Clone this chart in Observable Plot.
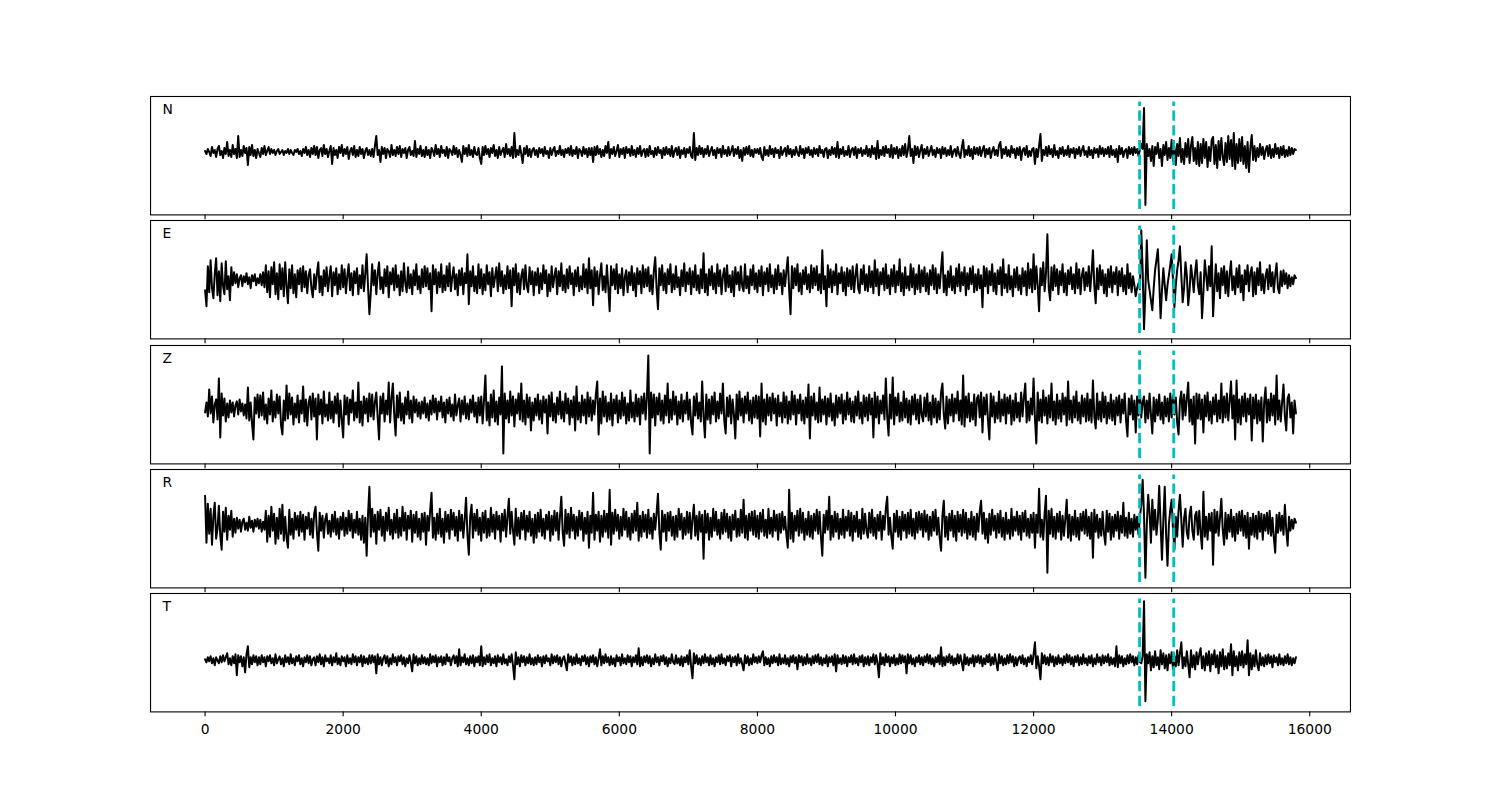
<!DOCTYPE html>
<html><head><meta charset="utf-8">
<script src="https://cdn.jsdelivr.net/npm/d3@7"></script>
<script src="https://cdn.jsdelivr.net/npm/@observablehq/plot@0.6"></script>
<style>
body{margin:0;background:#fff;}
#fig{position:relative;width:1500px;height:800px;background:#fff;overflow:hidden;}
#fig svg{position:absolute;left:0;}
</style></head><body><div id="fig"></div>
<script>
// time axis of the traces (one sample every dt)
const t0 = 0, dt = 20;
const channels = ["N", "E", "Z", "R", "T"];
const picks = [13535, 14030];
const xTicks = [0, 2000, 4000, 6000, 8000, 10000, 12000, 14000, 16000];
const xDomain = [-790, 16590];

const traceN = [
1,-2,3,0,-4,5,-1,2,-5,3, 6,-3,1,-6,4,-2,10,-4,2,-5, 7,-2,3,-6,16,-5,2,-4,6,-1, 4,-13,5,-3,7,-4,2,-6,3,-1,
-5,4,-2,6,-3,1,5,-2,3,-1, 2,-3,1,3,-2,0,2,-3,1,-1, 3,-2,2,-1,-3,2,0,3,-2,1, -4,3,-1,5,-3,2,-5,4,-2,6,
-3,5,-6,2,4,-4,7,-2,3,-5, 1,6,-12,4,-3,2,-6,5,-1,7, -4,3,-2,5,-7,1,4,-3,6,-5, 2,-4,5,-2,3,-6,1,4,-3,2,
-4,3,-5,6,16,-3,2,-10,5,-2, 4,-6,3,1,-5,7,-3,2,-4,5, -2,6,-5,3,-1,4,-6,2,5,-3, 1,-4,11,-5,3,-2,6,-4,2,-5,
5,-3,2,-6,4,1,-4,7,-2,3, -5,6,-1,2,-4,5,-6,3,1,-3, 6,-2,4,-5,2,-3,-10,6,-2,4, -4,7,-3,2,-5,5,-2,-3,4,-6,
-12,5,-3,6,-2,3,-5,4,-1,7, -4,2,-6,5,-3,1,4,-5,8,-2, 3,-4,5,-6,19,-5,2,-3,6,-2, -11,4,-2,6,-4,3,-5,2,4,-3,
2,-5,4,-1,3,-4,5,-2,1,-6, 4,-3,2,5,-4,1,-2,6,-3,2, -5,3,-1,4,-3,6,-4,2,-2,5, -6,3,1,-4,5,-2,3,-5,4,-3,
4,-10,5,-3,6,-2,3,-5,2,-4, 6,-1,10,-6,3,-2,5,-4,1,7, -5,3,-2,4,-6,5,-1,3,-4,6, -3,2,-5,4,-2,6,-4,1,3,-5,
3,-4,6,-2,1,-5,4,-3,5,-1, 2,-6,4,-3,5,-2,3,-4,6,-5, 1,4,-3,5,-6,2,-2,4,-5,3, -1,5,-4,-6,19,-8,4,-3,6,-2,
4,-5,3,-2,6,-4,1,5,-3,2, -6,4,-1,3,-5,6,-2,2,-4,5, -3,1,6,-4,3,-2,5,-6,2,-9, 4,-3,5,-2,6,-4,2,-5,3,-1,
3,-2,4,-5,-8,5,-3,2,-4,6, -2,3,-5,4,-1,2,-6,5,-3,1, 4,-4,6,-2,3,-5,2,-3,5,-1, -4,6,-2,3,-6,4,-1,5,-3,2,
-5,4,-2,3,-4,6,-1,2,-5,3, 4,-6,2,-3,5,-2,4,-5,10,-6, 3,-2,5,-4,1,-3,6,-5,2,4, -3,5,-6,3,-1,4,-4,2,-2,6,
-4,3,-5,6,-2,4,-7,11,-6,2, -3,5,-4,6,-1,3,-5,7,-6,4, -2,5,-6,3,-4,6,-3,8,-5,2, 16,-4,3,-11,6,-3,5,-5,2,7,
-6,3,-2,5,-4,1,6,-3,2,-5, 4,-1,3,-6,5,-2,4,-4,2,-3, 6,-5,1,3,-4,5,-2,-6,4,12, -5,2,-3,6,-4,3,-7,5,-2,4,
-3,5,-4,2,6,-5,3,-2,4,-6, 1,5,-3,2,-4,7,10,-6,3,-2, 5,-4,2,-5,6,-1,3,-6,4,-3, 5,-8,2,4,-3,6,-5,1,-4,3,
4,-12,3,-5,6,18,-9,2,-3,5, -4,6,-2,3,-5,7,-3,1,-6,4, -2,5,-4,2,-3,6,-5,3,-1,4, -6,3,-2,5,-4,2,6,-3,1,-5,
5,-3,2,-6,4,-1,3,-5,6,-2, 4,-4,3,-2,5,-5,6,-3,2,-5, 3,-10,6,-2,4,-5,1,3,-6,5, -2,4,-3,5,-1,3,-4,2,8,3,
44,-53,8,-4,3,-9,6,-14,5,-2, 9,-6,3,-14,7,-3,10,-8,4,-6, 12,-9,5,-13,8,-4,14,-10,3,-12, 9,-5,13,-11,6,15,-9,4,-12,10,
-14,8,-11,13,-6,10,-15,5,-9,12, 15,-12,7,-16,11,-8,14,-5,-13,9, -10,16,-7,12,-14,19,-17,8,-11,13, -9,15,-12,6,-16,10,-20,4,17,-8,
6,-9,4,-5,8,-3,5,-7,2,6, -4,7,-6,3,-5,8,-2,4,-6,5, -3,6,-5,2,-4,5,-3,4,-2,3, 2];

const traceE = [
-10,-26,14,-12,20,-8,-18,6,22,-15, 9,-21,17,-6,-14,19,-9,4,-20,13, -5,8,-3,6,-7,2,5,-6,4,-2, 7,-4,3,-8,5,-1,6,-5,2,-3,
6,-5,8,-7,15,-12,9,-17,13,-4, 18,-14,7,-19,16,-9,12,-16,18,-6, -23,11,-8,15,-13,6,-17,10,-4,12, -11,14,-7,9,-13,5,11,-8,-17,6,
-9,7,18,-12,4,-15,10,-6,13,-11, 3,14,-16,8,-5,12,-14,6,-9,15, -7,11,-13,4,16,-10,7,-15,9,-3, 12,-14,5,-8,15,-11,6,26,-6,-34,
-12,16,-5,10,-14,7,18,-9,3,-13, 11,-6,14,-17,8,-4,12,-10,15,-7, 5,-15,9,-11,17,-3,-12,13,-8,6, -14,10,-5,16,-9,4,-13,11,-7,14,
-6,12,-9,7,-31,15,-4,11,-13,8, -7,16,-12,5,-10,14,-6,17,-11,3, 13,-9,6,-15,10,-5,12,-14,7,-3, 26,-24,9,-6,14,-11,4,-13,16,-8,
11,-14,6,-10,15,-4,8,-16,12,-7, 3,13,-11,17,-6,9,-13,5,-9,14, -8,10,-26,12,-5,16,-12,7,-14,4, 11,-9,15,-6,-12,13,-4,9,-15,8,
-5,12,-13,7,-9,15,-3,10,-16,6, -11,14,-7,4,12,-14,9,-6,17,-10, 5,-12,11,-8,14,-4,7,-15,10,-6, 13,-11,4,-9,16,-7,11,-13,22,-8,
10,-25,13,-6,9,-14,5,17,-10,4, -12,15,-7,-31,14,-5,11,-9,16,-13, 6,-8,12,-15,3,10,-12,8,-5,14, -10,7,-16,12,-4,9,-13,15,-7,11,
-6,13,-11,5,-14,9,23,-8,-29,12, -5,15,-10,7,-13,11,-4,16,-12,6, -9,14,-7,3,-15,10,-6,17,-11,8, -4,12,-14,9,-7,15,-10,5,-13,11,
-8,27,-12,6,-15,11,-5,14,-9,7, -13,16,-6,10,-14,4,12,-11,15,-7, 5,-12,9,-16,13,-4,8,-10,14,-6, -11,16,-8,4,-13,11,-5,15,-9,7,
-12,10,-6,14,-15,8,-4,12,-11,16, -7,5,-13,11,-9,15,-5,7,-14,10, -6,9,23,-10,-34,14,-8,12,-5,16, -11,7,-14,10,-4,13,-9,6,-12,15,
-8,12,-5,14,-10,6,-13,30,-9,4, -26,15,-7,11,-12,9,-5,16,-14,7, -3,13,-11,8,-15,12,-6,10,-9,14, -12,5,16,-8,-13,11,-4,15,-10,6,
-11,14,-7,9,-13,20,-6,11,-15,8, -4,12,-10,16,-8,5,-14,11,-6,15, -12,9,-5,21,-11,7,-15,13,-8,4, -10,16,-7,12,-14,6,-9,15,-12,10,
-6,13,-11,7,-14,10,-5,15,-9,12, -13,6,-8,11,28,-12,5,-15,9,-7, 14,-10,4,-13,12,-6,16,-11,8,-5, 13,-15,7,-9,12,-4,14,-12,6,-10,
11,-8,5,-27,14,-6,12,-13,9,-5, 16,-11,7,-14,10,-4,13,-15,21,-8, 6,-12,15,-9,4,-16,11,-7,13,-10, 5,-14,12,-6,9,-15,17,-8,11,-12,
26,-9,14,-6,-31,12,-5,18,-11,7, 46,-8,-20,13,-10,15,-6,11,-14,9, -5,16,-12,7,-15,10,-4,13,-9,6, -13,17,-8,11,-14,5,12,-10,8,-6,
14,-11,7,30,-6,-23,12,-9,15,-5, 10,-13,6,-16,11,-7,14,-12,8,-4, 13,-15,9,-6,12,-11,5,-14,16,-8, 7,-12,4,-5,-16,-8,-3,-9,50,10,
-49,-10,40,0,-10,-20,-30,-8,10,20, 31,0,-38,-10,12,-5,-20,-5,5,15, 26,0,-27,-5,10,20,34,5,-22,-8, 18,5,-25,-10,15,3,-12,8,20,-5,
-14,8,-38,-12,20,5,-10,14,-6,34, -36,-8,16,-11,7,-18,12,-5,14,-13, 9,-16,6,19,-10,4,-14,12,-7,15, -12,5,-20,10,-4,15,-11,7,13,-16,
8,-14,12,-5,18,-10,6,-13,4,11, -9,15,-6,8,-12,5,17,-8,-13,9, -6,10,-4,7,-8,5,-6,3,-4,5, 2];

const traceZ = [
-4,6,-8,19,-5,12,-14,4,9,-11, 30,-29,15,-7,10,-13,5,-9,8,-4, 6,-8,3,7,-6,9,-3,5,-7,4, -10,21,-12,6,-15,-31,11,-5,14,-9,
13,-7,16,-11,4,-15,10,-6,18,-13, 7,-9,14,-5,12,-17,-26,8,-12,23, -10,15,-6,11,-16,5,-9,13,-14,8, -5,22,-13,9,-17,6,12,-11,15,-8,
10,-31,14,-6,9,-15,17,-8,4,-12, 16,-10,7,-14,12,-5,15,-18,8,-11, -29,13,-6,11,-16,9,-4,18,-12,6, -9,26,-14,7,-17,12,-5,10,-13,15,
-8,14,-11,6,16,-9,-31,12,-5,15, -13,8,-6,26,-14,10,25,-7,-27,13, -9,16,-12,5,-15,11,-6,17,-10,8, -14,12,-4,9,-8,6,-10,7,-5,11,
-9,5,-12,8,-6,13,-4,10,-11,7, -3,12,-9,6,-14,9,-5,11,-8,4, -12,14,-7,3,10,-13,8,-6,12,-10, 5,-11,9,-4,13,-8,6,-14,11,-7,
12,-15,8,33,-12,6,-17,14,-9,18, -13,7,-16,11,-6,42,-45,15,-10,8, -14,17,-7,12,-18,9,-5,15,-11,25, -13,8,-16,14,-9,11,-22,6,-12,10,
-7,14,-11,8,-15,12,-4,9,-25,13, -8,16,-12,5,-14,11,-6,17,-10,7, -13,15,-5,10,-16,8,-9,12,-22,22, -11,6,-14,13,-7,9,-15,16,-8,11,
-12,8,-6,14,27,-26,10,-15,17,-8, 12,-13,6,-11,15,-17,9,-5,13,-14, 8,-10,16,-7,11,-15,5,-12,18,-9, 6,-13,14,-8,10,-16,12,-5,15,-11,
12,53,-45,16,-9,14,-17,11,-6,15, -12,8,-15,13,-7,25,-14,9,-11,17, -6,12,-16,7,-10,14,-13,8,-5,16, -11,9,-15,-26,12,-7,15,-10,6,-13,
27,-8,-29,14,-11,9,-15,12,-6,16, -13,7,-10,15,-5,25,-12,-25,11,-8, 13,-15,9,-6,-30,14,-11,17,-7,10, -14,12,-5,16,-12,8,-15,11,-9,13,
-10,12,-28,25,-13,9,-16,14,-7,11, -12,15,-5,10,-17,13,-8,6,-14,16, -9,12,-15,7,-11,17,-6,13,-16,9, -5,14,-12,8,-15,11,-9,24,-30,12,
-7,15,-11,6,-14,21,-13,9,-6,12, -16,10,-8,15,-12,5,-17,13,-9,11, -5,14,-15,8,-11,16,-6,10,-13,7, -14,12,-7,17,-10,6,-15,13,-8,11,
-12,14,-6,10,-29,16,-9,12,-15,8, -5,13,-11,30,-8,-27,14,-10,31,-16, 11,-7,15,-13,6,-12,17,-9,10,-14, 8,-16,12,-6,14,-11,9,-15,13,-7,
-13,11,-8,15,-12,6,-16,13,-9,10, -14,7,-11,16,25,-6,-20,12,-15,9, -7,14,-13,10,-5,17,-12,8,-16,33, -18,12,-9,15,-13,6,-11,14,-17,10,
13,-9,16,-24,11,-6,14,-12,-31,15, -8,12,-14,6,-10,17,-13,9,-7,14, -15,11,-5,13,-16,8,-12,15,-9,6, -13,16,-8,11,25,-14,7,-12,10,-6,
30,-10,-35,16,-12,9,-14,18,-7,11, -15,13,-9,25,-12,7,-16,14,-10,8, -13,15,-6,11,-17,27,-11,8,-14,12, -9,17,-12,6,-15,13,-8,10,-13,15,
-12,9,-14,28,-8,-20,15,-11,7,-13, 16,-9,12,-15,6,-10,14,-12,8,-16, 11,-7,13,-14,9,-5,15,-12,-28,10, -6,13,-11,8,-24,12,-7,18,-9,6,
12,-14,8,-10,15,-6,-25,11,-13,9, -7,14,-11,6,-15,12,-8,10,-13,15, -9,13,-6,11,-14,-26,8,17,-11,14, -7,10,26,-13,9,-16,12,-35,15,-10,
14,-11,9,-24,13,-8,16,-12,7,-15, 11,-6,14,-13,8,-10,25,-14,12,-9, 15,-12,7,27,-10,13,-31,28,-14,9, -16,12,-8,15,-13,10,-6,14,-32,11,
-10,14,-15,8,-12,11,-33,6,21,-14, 9,-12,15,-7,13,-16,33,-11,8,-13, 6,24,-8,-22,10,14,-9,6,-25,8, -5];

const traceR = [
29,-18,21,-9,16,-20,8,22,-14,-4, 19,-11,-25,13,-7,17,-15,9,-5,14, -12,6,-8,7,-4,5,-7,3,6,-5, 2,-6,8,-3,4,-7,5,-2,6,-4,
5,-7,3,-5,14,-17,9,-12,18,-6, 11,-19,7,-14,16,-9,20,-16,8,-13, -23,15,-10,6,-14,12,-5,9,-11,13, -7,10,-15,8,-4,12,-10,6,-13,11,
18,-8,-26,12,-6,9,-13,5,11,-9, 4,-12,10,-7,13,-10,6,-14,8,-5, 12,-11,7,-9,14,-6,11,-13,5,-8, 13,-10,6,-15,9,-18,7,-31,10,38,
-12,16,-7,10,-19,13,-5,15,-11,8, -16,12,-6,17,-10,5,-14,11,-8,15, -13,7,-11,18,-6,12,-15,9,-4,14, -17,10,-8,13,-12,6,-15,11,-7,12,
-20,9,-6,14,32,-13,7,-15,11,-9, 16,-12,6,-18,13,-7,10,-14,15,-5, 12,-11,8,-16,14,-6,10,-13,5,27, -10,-30,8,20,-13,11,-6,15,-10,7,
-16,12,-8,14,-13,6,-11,17,-7,10, -14,13,-5,9,-17,11,-6,15,-12,8, 26,-9,13,-6,-20,16,-11,7,-14,12, -5,14,-15,9,-7,13,-11,6,-18,10,
-13,12,-7,15,-11,6,-14,10,-5,13, -16,9,-10,14,-6,12,-15,8,28,-8, -21,15,-9,11,-13,17,-6,10,-14,8, -11,14,-5,12,-16,7,-9,13,-23,9,
-8,32,-15,10,-6,13,-17,9,-12,14, -7,11,-13,35,-20,12,-9,15,-6,10, -14,8,-11,16,-5,13,-12,7,-15,11, -8,14,-6,22,-16,9,-12,13,-7,10,
-13,15,-9,7,-14,11,-5,12,31,-8, -25,14,-7,10,-16,12,-6,13,-11,8, -15,9,-12,16,-5,11,-14,7,-10,13, -8,12,-14,6,20,-11,9,-15,13,-7,
10,-34,14,-8,11,-15,7,-12,16,-6, 13,-10,5,-14,12,-9,15,-7,11,-13, 8,-16,10,-5,14,-12,6,-11,15,-8, 25,-13,9,-15,11,-6,13,-10,14,-12,
9,-14,12,-7,15,-11,5,-13,16,-9, 7,-12,14,-6,10,-15,11,-8,13,-5, 8,-10,-23,35,-14,12,-17,9,-6,14, -11,16,-8,12,-15,6,-10,13,-12,9,
-14,11,-6,15,-9,13,-12,-31,10,-8, 14,-5,28,-15,9,-12,13,-7,11,-14, 6,-10,15,-13,8,-6,14,-11,12,-16, 9,-7,13,-12,5,-14,16,-9,11,-6,
-13,12,-8,15,-11,7,-14,10,-6,13, -15,9,-5,16,28,-10,7,-12,-24,11, -7,14,-12,8,-15,13,-6,10,-13,12, -9,15,-11,6,-14,12,-8,13,-5,11,
-12,14,-7,10,-15,8,-11,13,-6,15, -10,7,-13,-26,9,24,-12,8,-15,11, -6,14,-12,9,-16,13,-7,10,-11,15, -8,12,-14,6,-10,13,-12,8,-15,11,
-7,13,24,-9,12,-14,6,-18,11,-10, 15,-6,9,-13,11,-8,14,-12,7,-15, 12,-9,5,-14,16,-11,8,-6,13,-10, 9,-15,12,-7,14,-11,6,-13,10,-8,
12,-23,10,-8,36,-12,5,-15,11,29, -48,14,-9,16,-12,8,-14,11,-7,13, -15,9,-11,6,25,-13,10,-16,8,-10, 14,-12,7,-15,11,-6,13,-9,15,-11,
8,-14,12,-33,15,-7,10,-13,6,-11, 13,-9,-20,14,-7,11,-15,8,-12,10, -6,13,-14,9,-8,22,-11,7,-13,12, -9,6,-12,10,-5,8,-10,7,20,45,
10,-53,0,30,12,-18,25,-5,15,-10, 5,39,0,-35,5,38,-10,-41,0,15, 25,-5,-25,8,-12,14,30,5,-22,6, 16,-8,-14,10,18,-6,-15,9,13,-10,
14,-9,-24,33,-12,8,-15,11,-6,12, -40,15,-8,13,-11,7,26,-5,-20,12, -14,10,-7,15,-12,8,-16,11,-9,13, -6,14,-11,9,-13,12,-24,7,-10,11,
-12,9,-14,13,-7,11,-15,10,-6,12, -9,14,-11,7,-13,-28,10,-8,12,-6, 9,-10,20,-5,-21,8,-6,5,-4,6, 2];

const traceT = [
1,-2,3,-1,4,-3,2,-5,3,0, -3,4,-2,5,-1,3,7,-4,2,-5, 4,-3,6,-15,5,-2,4,-6,3,-12, 6,14,-7,3,-4,5,-2,4,-5,3,
-4,5,-2,3,-6,4,-1,5,-3,2, -5,6,-3,1,4,-4,2,-6,5,-2, 3,-4,6,-3,2,-5,4,-1,5,-4, 2,-6,3,-2,5,-3,4,-5,1,3,
-5,4,-2,6,-4,3,-6,5,-1,2, -3,5,-5,3,-2,7,-4,2,-5,4, -1,3,-6,5,-3,2,-4,6,-2,4, -5,3,-2,5,-6,4,-3,2,-4,5,
-3,5,-2,4,-13,6,-4,3,-5,2, 5,-3,4,-6,2,-4,6,-2,3,-5, 4,-1,5,-4,3,-6,2,-3,5,-2, -11,6,-3,4,-5,2,-4,5,-3,3,
-4,2,-5,6,-3,4,-2,5,-6,3, -2,4,-5,3,-4,6,-1,3,-5,2, 5,-3,4,-6,11,-5,3,-2,6,-4, 2,-5,4,-3,5,-6,3,-2,4,-5,
14,-6,3,-4,5,-2,6,-5,2,-3, 4,-6,5,-2,3,-4,6,-3,1,-5, 4,-2,6,-5,-19,8,-4,3,-6,5, -2,4,-5,3,-3,6,-4,2,-5,3,
-4,5,-2,3,-6,4,-3,5,-1,2, -5,6,-3,4,-2,5,-4,3,-6,2, 4,-3,-10,6,-2,4,-5,3,-4,6, -3,2,-5,4,-1,5,-4,3,-6,4,
-2,5,-4,3,-6,2,11,-5,4,-3, 6,-2,3,-5,4,-4,2,-6,5,-1, 3,-5,6,-3,2,-4,5,-2,4,-6, 3,-2,5,-4,12,-6,3,-5,4,-2,
5,-3,4,-6,2,-4,6,-2,3,-5, 4,-1,5,-4,3,-6,2,-3,6,-2, -4,5,-3,2,-5,4,-6,3,-2,5, -4,10,-6,-18,7,-3,5,-4,2,-5,
4,-3,6,-2,3,-5,5,-4,2,-6, 3,-2,5,-4,6,-3,2,-5,4,-1, 5,-6,3,-2,4,-5,6,-3,2,-4, -10,5,-3,4,-5,2,-4,6,-2,3,
-3,4,-2,5,9,-5,3,-4,2,-6, 4,-3,5,-2,3,-5,6,-4,2,-3, 5,-4,2,-6,4,-2,5,-3,3,-9, 5,-2,4,-5,3,-4,6,-3,2,-5,
4,-3,5,-2,6,-4,3,-5,2,-3, 5,-6,3,-2,4,-5,6,-11,5,-3, 2,-4,5,-3,4,-6,3,-2,5,-4, 6,-3,2,-5,4,-2,5,-6,3,-4,
4,-5,3,-2,6,-4,5,-3,-17,7, -4,3,-5,6,-2,4,-6,3,-3,5, -5,2,-4,6,-3,5,-2,4,-13,6, -3,5,-4,2,-6,3,-2,5,-4,3,
-5,4,-2,6,-3,5,-4,2,-6,3, -2,5,-4,13,-6,3,-5,4,-2,6, -3,4,-5,2,-4,6,-3,5,-2,-10, 6,-4,3,-5,2,-3,5,-6,4,-2,
5,-3,4,-6,2,-4,5,-2,6,-5, 3,-4,6,-2,-10,6,-3,4,-5,2, -4,5,-3,6,-2,4,-6,3,-5,2, 4,-3,5,-4,2,-6,3,-2,5,-4,
6,18,-8,4,-6,-19,7,-3,5,-4, 3,-5,6,-2,4,-6,3,-4,5,-3, 2,-5,4,-3,6,-2,5,-4,3,-6, 4,-2,5,-5,3,-4,6,-3,2,-5,
4,-3,5,-6,2,-4,6,-2,3,-5, 5,-3,4,-2,6,-5,3,-4,2,-6, 14,-7,5,-3,4,-6,2,-4,5,-3, 6,-2,4,-5,3,-4,5,-2,-3,4,
59,-41,6,-3,8,-10,4,-7,9,-5, 3,-9,10,-4,7,-8,5,-10,6,-3, 8,-9,4,-6,10,-5,7,18,-8,3, -6,9,-4,-17,10,-7,5,-9,8,-4,
6,12,-8,4,-10,7,-5,9,-11,6, -4,10,-7,5,-13,8,-6,11,-9,4, -8,7,-5,16,-15,9,-6,4,-10,8, -5,9,-7,6,-4,20,-15,7,-9,5,
-6,10,-4,-10,7,-5,3,-6,5,-4, 6,-3,4,-7,5,-2,3,-5,6,-4, 2,-5,4,-3,6,-4,3,-5,2,-3, 3];

// amplitude limits of each panel (the pick lines span them)
const yLimN = [-57.5, 50.1];
const yLimE = [-53.3, 54.3];
const yLimZ = [-50.1, 57.5];
const yLimR = [-57.8, 49.8];
const yLimT = [-46.2, 61.4];

const traces = {N: traceN, E: traceE, Z: traceZ, R: traceR, T: traceT};
const yLims = {N: yLimN, E: yLimE, Z: yLimZ, R: yLimR, T: yLimT};

const fig = document.getElementById("fig");
const frameTops = [96, 220.3, 344.6, 468.9, 593.2];
const frameH = 118.4;
const FONT = "'DejaVu Sans', sans-serif";

channels.forEach((ch, k) => {
  const last = k === channels.length - 1;
  const mt = 3, mb = last ? 45 : 9;
  const data = traces[ch].map((v, i) => ({t: t0 + i * dt, v}));
  const [lo, hi] = yLims[ch];
  const svg = Plot.plot({
    width: 1500,
    height: frameH + mt + mb,
    marginLeft: 150, marginRight: 150, marginTop: mt, marginBottom: mb,
    style: {background: "transparent", fontFamily: FONT, fontSize: "13.9px", color: "black", overflow: "visible"},
    x: {domain: xDomain},
    y: {domain: [lo, hi], insetTop: 5.38, insetBottom: 5.38, axis: null},
    marks: [
      Plot.lineY(data, {x: "t", y: "v", stroke: "black", strokeWidth: 2}),
      Plot.ruleX(picks, {x: d => d, y1: () => lo, y2: () => hi, stroke: "#00bfbf", strokeWidth: 2.8, strokeDasharray: "10.3,4.4"}),
      Plot.frame({stroke: "black", strokeWidth: 1.1}),
      Plot.axisX({ticks: xTicks, tickSize: 4.86, tickPadding: 7.5, strokeWidth: 1.1,
                  tickFormat: last ? (d => String(d)) : (() => ""), label: null,
                  fontSize: 13.9, fontFamily: FONT, fill: "black"}),
      Plot.text([ch], {frameAnchor: "top-left", dx: 12, dy: 7.5, lineAnchor: "top", textAnchor: "start",
                       text: d => d, fill: "black", fontSize: 13.9, fontFamily: FONT})
    ]
  });
  svg.style.top = (frameTops[k] - mt) + "px";
  fig.appendChild(svg);
});
</script></body></html>
